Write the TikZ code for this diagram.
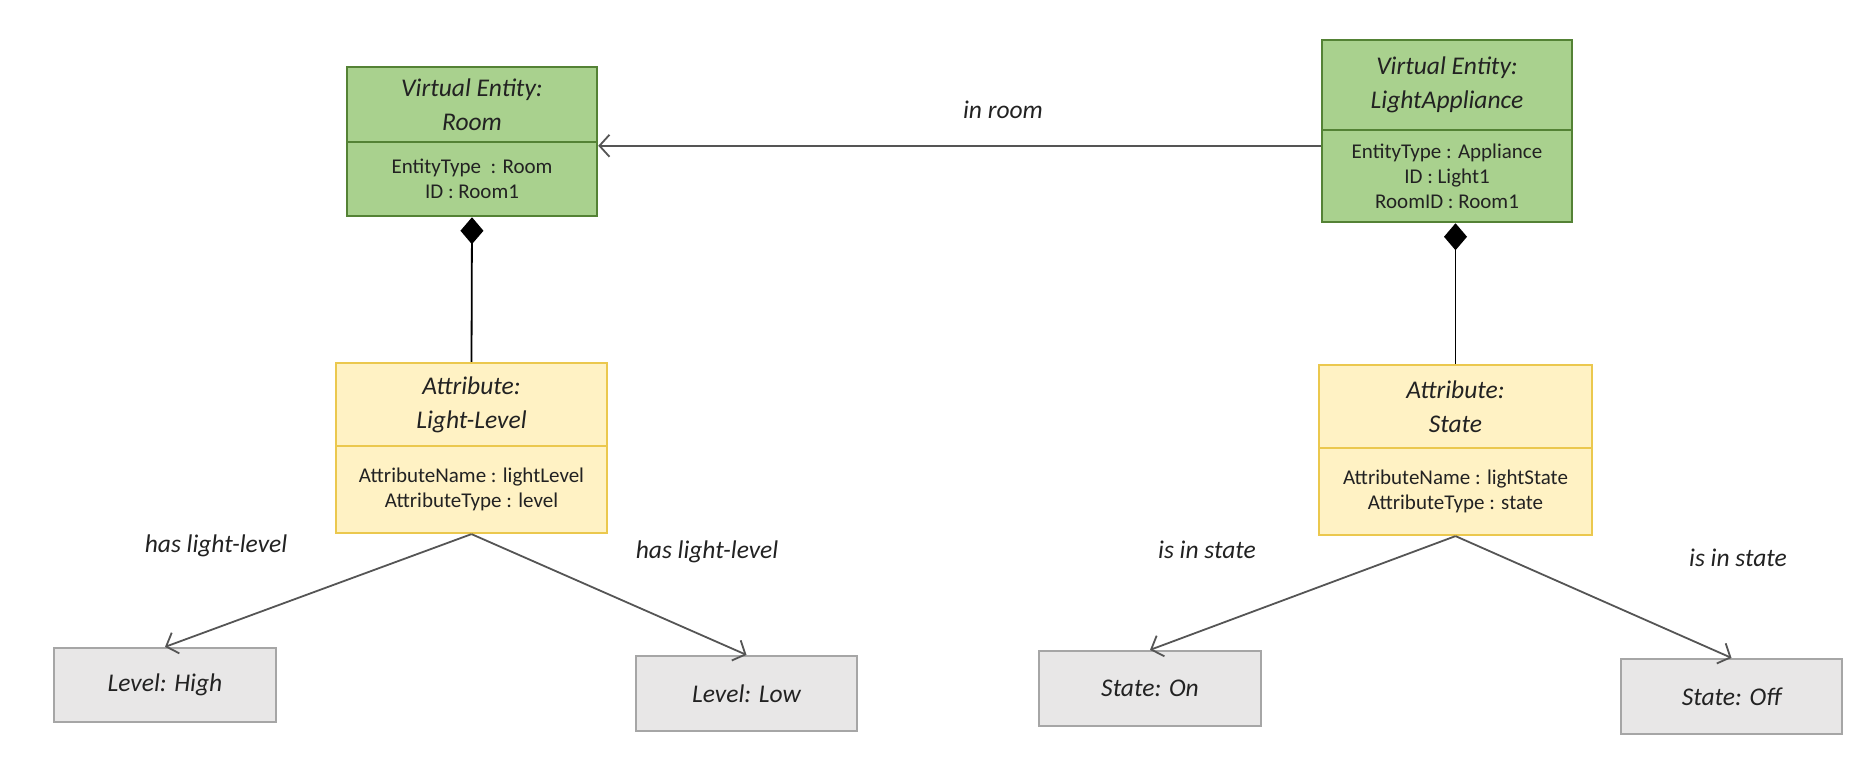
\documentclass[tikz,border=0pt]{standalone}
\usepackage{fontspec}
\setmainfont{Carlito}
\usetikzlibrary{arrows.meta}
\definecolor{vegreen}{HTML}{A9D18E}
\definecolor{vegreenb}{HTML}{548235}
\definecolor{attyel}{HTML}{FFF2C4}
\definecolor{attyelb}{HTML}{EBC84E}
\definecolor{valgray}{HTML}{E8E7E7}
\definecolor{valgrayb}{HTML}{A6A6A6}
\definecolor{txt}{HTML}{222222}
\definecolor{conn}{HTML}{555555}
\tikzset{
  part/.style={draw, rectangle, inner sep=0pt, align=center, text=txt},
  titlefont/.style={font=\fontsize{25.5}{34}\selectfont\itshape},
  attrfont/.style={font=\fontsize{21}{25}\selectfont},
  vepart/.style={part, fill=vegreen, draw=vegreenb, line width=2.5pt},
  atpart/.style={part, fill=attyel, draw=attyelb, line width=2.2pt},
  valbox/.style={part, fill=valgray, draw=valgrayb, line width=2.2pt, titlefont},
  lbl/.style={inner sep=0pt, text=txt, titlefont},
  arr/.style={draw=conn, line width=1.8pt, -{Straight Barb[length=10pt,width=22pt]}},
  comp/.style={draw=black, line width=1.8pt, {Diamond[length=27pt,width=23pt]}-},
}
\begin{document}
\begin{tikzpicture}[x=1pt,y=-1pt]
\useasboundingbox (0,0) rectangle (1862,771);
% Virtual Entity: Room
\node[vepart, titlefont, minimum width=250pt, minimum height=75pt] (roomT) at (472,104.5) {Virtual Entity:\\Room};
\node[vepart, attrfont, minimum width=250pt, minimum height=74pt] (roomA) at (472,179) {EntityType~ : Room\\ID : Room1};
% Virtual Entity: LightAppliance
\node[vepart, titlefont, minimum width=250pt, minimum height=90pt] (laT) at (1447,85) {Virtual Entity:\\LightAppliance};
\node[vepart, attrfont, minimum width=250pt, minimum height=92pt] (laA) at (1447,176) {EntityType : Appliance\\ID : Light1\\RoomID : Room1};
% Attribute: Light-Level
\node[atpart, titlefont, minimum width=271pt, minimum height=83pt] (llT) at (471.5,404.5) {Attribute:\\Light-Level};
\node[atpart, attrfont, minimum width=271pt, minimum height=87pt] (llA) at (471.5,489.5) {AttributeName : lightLevel\\AttributeType : level};
% Attribute: State
\node[atpart, titlefont, minimum width=273pt, minimum height=83pt] (stT) at (1455.5,406.5) {Attribute:\\State};
\node[atpart, attrfont, minimum width=273pt, minimum height=87pt] (stA) at (1455.5,491.5) {AttributeName : lightState\\AttributeType : state};
% value boxes
\node[valbox, minimum width=222pt, minimum height=74pt] (lh) at (165,685) {Level: High};
\node[valbox, minimum width=221pt, minimum height=75pt] (lw) at (746.5,693.5) {Level: Low};
\node[valbox, minimum width=222pt, minimum height=75pt] (son) at (1150,688.5) {State: On};
\node[valbox, minimum width=221pt, minimum height=75pt] (soff) at (1731.5,696.5) {State: Off};
% composition
\draw[comp] (roomA.south) -- (llT.north);
\draw[comp] (laA.south -| stT.north) -- (stT.north);
% in room
\coordinate (rc) at ([yshift=-5pt]roomA.north east);
\draw[arr] (laA.west |- rc) -- (rc);
\node[lbl] (inroom) at (1003,110) {in room};
% value arrows
\draw[arr] (llA.south) -- (lh.north);
\draw[arr] (llA.south) -- (lw.north);
\draw[arr] (stA.south) -- (son.north);
\draw[arr] (stA.south) -- (soff.north);
\node[lbl] (l1) at (216,546) {has light-level};
\node[lbl] (l2) at (707,552) {has light-level};
\node[lbl] (l3) at (1207,550) {is in state};
\node[lbl] (l4) at (1738,558) {is in state};
\end{tikzpicture}
\end{document}
